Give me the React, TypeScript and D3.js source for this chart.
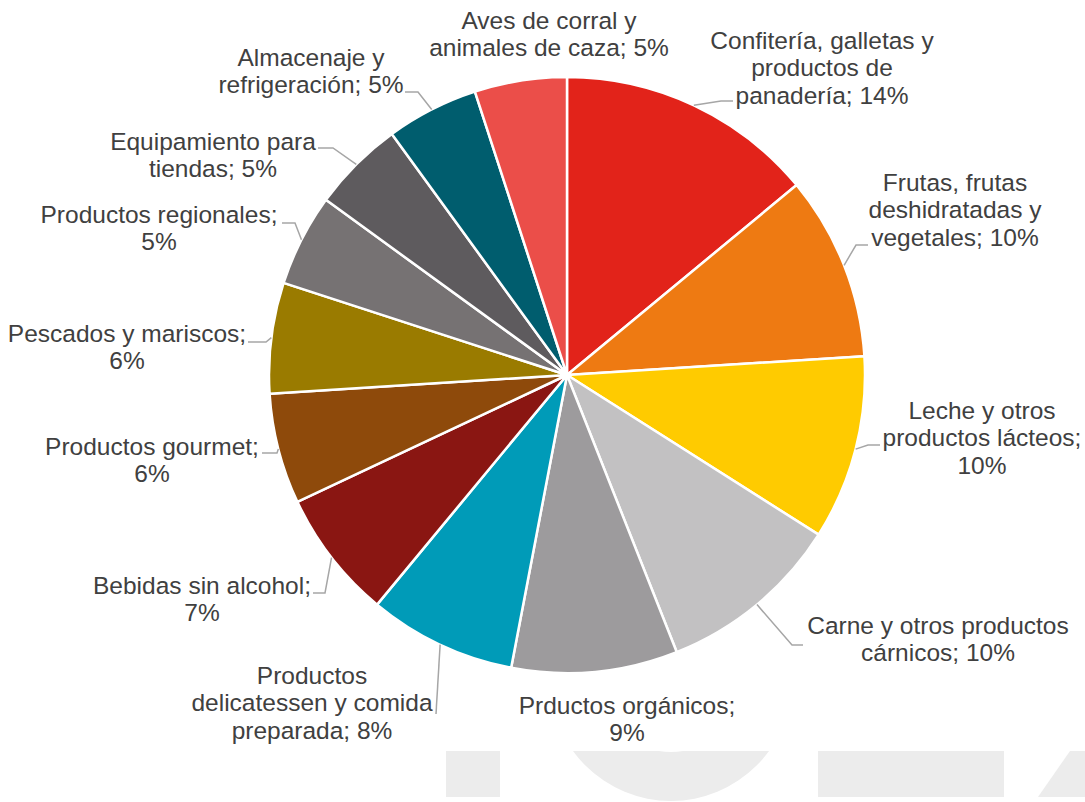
import React from "react";
import * as d3 from "d3";

const categories = [
  "Confitería, galletas y productos de panadería",
  "Frutas, frutas deshidratadas y vegetales",
  "Leche y otros productos lácteos",
  "Carne y otros productos cárnicos",
  "Prductos orgánicos",
  "Productos delicatessen y comida preparada",
  "Bebidas sin alcohol",
  "Productos gourmet",
  "Pescados y mariscos",
  "Productos regionales",
  "Equipamiento para tiendas",
  "Almacenaje y refrigeración",
  "Aves de corral y animales de caza",
];
const values = [14, 10, 10, 10, 9, 8, 7, 6, 6, 5, 5, 5, 5];

// label text lines (as shown in the chart)
const labelLines = [
  ["Confitería, galletas y", "productos de", "panadería; 14%"],
  ["Frutas, frutas", "deshidratadas y", "vegetales; 10%"],
  ["Leche y otros", "productos lácteos;", "10%"],
  ["Carne y otros productos", "cárnicos; 10%"],
  ["Prductos orgánicos;", "9%"],
  ["Productos", "delicatessen y comida", "preparada; 8%"],
  ["Bebidas sin alcohol;", "7%"],
  ["Productos gourmet;", "6%"],
  ["Pescados y mariscos;", "6%"],
  ["Productos regionales;", "5%"],
  ["Equipamiento para", "tiendas; 5%"],
  ["Almacenaje y", "refrigeración; 5%"],
  ["Aves de corral y", "animales de caza; 5%"],
];

const colors = [
  "#E2231A", "#EE7A12", "#FFCB00", "#C2C1C2", "#9D9B9D", "#009BB8", "#8A1612",
  "#8E4A0B", "#9A7B00", "#767273", "#5E5B5E", "#005D6E", "#EB4E49",
];

// layout: label center x, first line center y
const labelPos: [number, number][] = [
  [822, 40], [955, 182], [982, 410], [938, 625], [627, 705], [312, 675],
  [202, 585], [152, 446], [127, 333], [159, 214], [213, 141], [311, 57], [549, 20],
];
// leader: elbow point and attach point (null = no leader)
const leaders: ([number, number, number, number] | null)[] = [
  [721, 101, 733, 101],
  [856, 245, 868, 245],
  [868, 445, 880, 445],
  [792, 645, 803, 645],
  null,
  [436, 714, 436, 714],
  [325, 593, 313, 593],
  [277, 453, 262, 453],
  [266, 342, 248, 342],
  [295, 223, 282, 223],
  [333, 148, 318, 148],
  [418, 92, 405, 92],
  null,
];

const W = 1085, H = 802;
const CX = 567, CY = 375, R = 298;
const FONT = 24.5, LINE = 27.5;

export default function App() {
  const pie = d3.pie<number>().sort(null).value((d) => d);
  const arcs = pie(values);
  const arcGen = d3.arc<d3.PieArcDatum<number>>().innerRadius(0).outerRadius(R);
  const ring = d3.arc()({ innerRadius: 72, outerRadius: 121, startAngle: 0, endAngle: 2 * Math.PI } as any) as string;

  return (
    <svg width={W} height={H} style={{ position: "absolute", left: 0, top: 0, background: "#fff" }}
      fontFamily="'Liberation Sans', Arial, sans-serif">
      <defs>
        <clipPath id="wm"><rect x={0} y={751} width={W} height={H - 751} /></clipPath>
      </defs>
      <g clipPath="url(#wm)" fill="#ECECEC">
        <rect x={446} y={751} width={54} height={46} />
        <path d={ring} transform="translate(671,680)" />
        <rect x={818} y={751} width={186} height={46} />
        <polygon points="1070,751 1085,751 1085,797 1038,797" />
      </g>
      <g transform={`translate(${CX},${CY})`}>
        {arcs.map((a, i) => (
          <path key={i} d={arcGen(a) as string} fill={colors[i]} stroke="#fff" strokeWidth={2.5} strokeLinejoin="round" />
        ))}
      </g>
      <g fill="none" stroke="#A6A6A6" strokeWidth={1.5}>
        {arcs.map((a, i) => {
          const l = leaders[i];
          if (!l) return null;
          const mid = (a.startAngle + a.endAngle) / 2;
          const sx = CX + R * Math.sin(mid);
          const sy = CY - R * Math.cos(mid);
          return <polyline key={i} points={`${sx},${sy} ${l[0]},${l[1]} ${l[2]},${l[3]}`} />;
        })}
      </g>
      <g fill="#404040" fontSize={FONT} textAnchor="middle">
        {labelLines.map((lines, i) => (
          <text key={i} aria-label={categories[i]}>
            {lines.map((t, j) => (
              <tspan key={j} x={labelPos[i][0]} y={labelPos[i][1] + j * LINE + 8.5}>{t}</tspan>
            ))}
          </text>
        ))}
      </g>
    </svg>
  );
}
